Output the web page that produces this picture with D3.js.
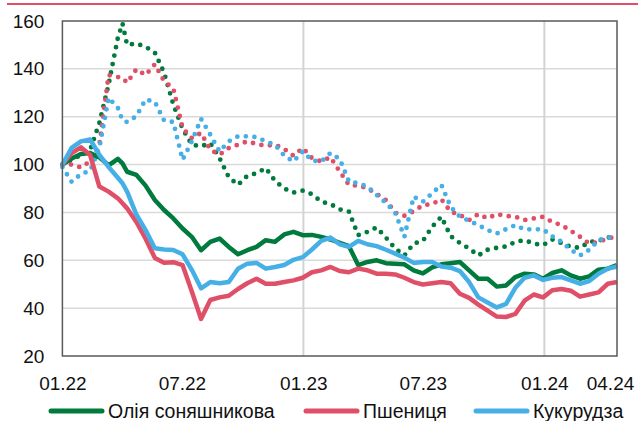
<!DOCTYPE html>
<html>
<head>
<meta charset="utf-8">
<script src="https://cdn.jsdelivr.net/npm/d3@7"></script>
<style>
  body { margin: 0; background: #fff; }
  text { font-family: "Liberation Sans", Arial, sans-serif; fill: #111; }
</style>
</head>
<body>
<div id="chart"></div>
<script>
var svgWidth = 638;
var svgHeight = 421;

var margin = {
  top: 21,
  right: 21,
  bottom: 65,
  left: 62.4
};

var width = svgWidth - margin.left - margin.right;
var height = svgHeight - margin.top - margin.bottom;

// Dates (two-week steps, plus one extra point at the early-April peak)
var dates = [
  "2022-01-01", "2022-01-15", "2022-01-29", "2022-02-12", "2022-02-26", "2022-03-12",
  "2022-03-26", "2022-04-02", "2022-04-09", "2022-04-23", "2022-05-07", "2022-05-21",
  "2022-06-04", "2022-06-18", "2022-07-02", "2022-07-16", "2022-07-30", "2022-08-13",
  "2022-08-27", "2022-09-10", "2022-09-24", "2022-10-08", "2022-10-22", "2022-11-05",
  "2022-11-19", "2022-12-03", "2022-12-17", "2022-12-31", "2023-01-14", "2023-01-28",
  "2023-02-11", "2023-02-25", "2023-03-11", "2023-03-25", "2023-04-08", "2023-04-22",
  "2023-05-06", "2023-05-20", "2023-06-03", "2023-06-17", "2023-07-01", "2023-07-15",
  "2023-07-29", "2023-08-12", "2023-08-26", "2023-09-09", "2023-09-23", "2023-10-07",
  "2023-10-21", "2023-11-04", "2023-11-18", "2023-12-02", "2023-12-16", "2023-12-30",
  "2024-01-13", "2024-01-27", "2024-02-10", "2024-02-24", "2024-03-09", "2024-03-23",
  "2024-04-06", "2024-04-20"
];

// Solid lines (legend series)
var oilSolid = [
  100, 102.5, 104.4, 104.8, 103, 99.7, 102.4, 100.5, 97, 95.7, 91.2, 85.2,
  81, 77.5, 73.3, 69.8, 64.2, 67.7, 69.1, 65.6, 62.5, 64.2, 65.6, 68.4,
  67.7, 70.8, 71.9, 70.5, 70.6, 69.8, 68.7, 67.3, 65.9, 58, 59.3, 60,
  58.8, 58.6, 58.3, 55.8, 54.5, 57, 58.3, 58.8, 59.3, 55.8, 52.3, 52.3,
  49, 49.5, 53, 54.4, 54.1, 52.3, 54.7, 55.8, 53.7, 52.3, 53.3, 56.1,
  56.5, 58
];
var wheatSolid = [
  100, 104.8, 107.2, 104, 90.8, 88.7, 85.9, 83.8, 81.7, 76, 69, 61,
  59, 59.2, 58, 47, 35.5, 43.4, 44.5, 45.2, 48, 50.4, 52.3, 50.2,
  50.2, 50.9, 51.6, 52.7, 55, 55.8, 57.2, 55.5, 55, 56.5, 55.8, 54.4,
  54.4, 54.1, 52.7, 50.9, 49.9, 50.4, 50.9, 50.4, 46, 44.3, 41.5, 39,
  36.5, 36.3, 37.6, 43.1, 45.7, 44.5, 47.5, 48, 47.3, 44.8, 45.7, 46.6,
  50.2, 50.9
];
var cornSolid = [
  100, 107, 109.7, 110.5, 104, 99, 94.5, 92.2, 88.7, 79.2, 72.6, 65,
  64.5, 64.3, 62.5, 56, 48.3, 50.9, 50.4, 50.9, 56.5, 58.6, 58.9, 56.5,
  57.2, 58, 60.2, 61.3, 64.5, 68.1, 69.5, 66.7, 65.6, 68.1, 66.7, 65.9,
  64.4, 62.8, 61.1, 58.9, 59.3, 59.3, 57.4, 56.9, 55.5, 50.9, 44.5, 42.4,
  40.3, 41.8, 48.5, 52.7, 53.7, 51.8, 52.7, 53, 51.6, 50.2, 51.3, 54.4,
  56.5, 57.4
];

// Dotted lines (no legend entry)
var oilDotted = [
  100, 102, 104, 106, 117.4, 133.5, 153, 159, 150, 150.6, 149.2, 146.8,
  138.4, 125.1, 115, 108.3, 107.6, 109, 102.7, 94.7, 91.5, 95.3, 96.4, 98.5,
  93.2, 90, 88.3, 89.1, 87.6, 84.5, 83.5, 81.3, 80.3, 70.5, 71.9, 73.7,
  69.5, 64.9, 62, 67, 68.1, 74, 78.2, 70.1, 67.2, 64.9, 62, 64.4,
  65.2, 65.8, 67.7, 68.4, 67, 66.3, 68.7, 67.2, 65.6, 65.2, 67.7, 68.1,
  69.5, 70
];
var wheatDotted = [
  100, 100, 98.8, 101.3, 108.3, 137.4, 136.6, 136.3, 134.2, 139.8, 137.4, 141.9,
  134.9, 131.8, 115.3, 111.1, 113.2, 106.2, 104.1, 106.9, 108.3, 109.7, 108.6, 107.9,
  108.3, 106.5, 103.7, 106.9, 102.7, 101.3, 103.1, 97.1, 91.5, 91.2, 90.1, 87.7,
  85.2, 79.9, 78.6, 80.5, 83, 83.5, 85.5, 80.3, 78.9, 76.8, 79.3, 77.5,
  79.3, 78.5, 78.2, 76.8, 77.5, 78.2, 76, 74.7, 72.3, 69.8, 67, 67.7,
  69.1, 70
];
var cornDotted = [
  99, 92.8, 96, 97.4, 107, 127.9, 123.7, 118.5, 117.8, 120.2, 127.2, 126.2,
  118.4, 117.8, 102, 109.7, 119.1, 112.5, 105.5, 109.7, 111.8, 111.8, 111.5, 109.7,
  108.3, 103.7, 101.3, 105.5, 101.7, 101.3, 104.8, 102.3, 92.9, 92.2, 90.8, 87.3,
  84, 79.9, 69.8, 86.6, 84.5, 88, 91.5, 82.4, 78.2, 76.5, 74.7, 72.6,
  71.2, 73, 74.7, 72.9, 73, 72.9, 70, 67.7, 64.4, 62, 64.4, 68.4,
  69.5, 70
];

var yTicks = [20, 40, 60, 80, 100, 120, 140, 160];
var xTickDates = ["2022-01-01", "2022-07-01", "2023-01-01", "2023-07-01", "2024-01-01", "2024-04-20"];
var xTickLabels = ["01.22", "07.22", "01.23", "07.23", "01.24", "04.24"];
var yearLines = ["2023-01-01", "2024-01-01"];

var seriesNames = ["Олія соняшникова", "Пшениця", "Кукурудза"];
var colors = ["#007a3d", "#e04f68", "#45afe6"];

var parseDate = d3.timeParse("%Y-%m-%d");

var svg = d3.select("#chart")
  .append("svg")
  .attr("width", svgWidth)
  .attr("height", svgHeight);

// Red rule at the very top
svg.append("line")
  .attr("x1", 7)
  .attr("x2", svgWidth)
  .attr("y1", 4)
  .attr("y2", 4)
  .attr("stroke", colors[1])
  .attr("stroke-width", 2);

var chartGroup = svg.append("g")
  .attr("transform", `translate(${margin.left}, ${margin.top})`);

var xScale = d3.scaleTime()
  .domain([parseDate(dates[0]), parseDate(dates[dates.length - 1])])
  .range([0, width]);

var yScale = d3.scaleLinear()
  .domain([20, 160])
  .range([height, 0]);

// Horizontal gridlines
chartGroup.selectAll(".hgrid")
  .data(yTicks.slice(1, -1))
  .enter().append("line")
  .attr("x1", 0)
  .attr("x2", width)
  .attr("y1", d => yScale(d))
  .attr("y2", d => yScale(d))
  .attr("stroke", "#d9d9d9")
  .attr("stroke-width", 1.5);

// Vertical year lines
chartGroup.selectAll(".vgrid")
  .data(yearLines)
  .enter().append("line")
  .attr("x1", d => xScale(parseDate(d)))
  .attr("x2", d => xScale(parseDate(d)))
  .attr("y1", 0)
  .attr("y2", height)
  .attr("stroke", "#d3d3d3")
  .attr("stroke-width", 2);

// Axes
var leftAxis = d3.axisLeft(yScale)
  .tickValues(yTicks)
  .tickSize(0)
  .tickPadding(18);

var yAxis = chartGroup.append("g").call(leftAxis);
yAxis.select(".domain").remove();
yAxis.selectAll("text")
  .attr("font-size", 19)
  .attr("fill", "#111");

var bottomAxis = d3.axisBottom(xScale)
  .tickValues(xTickDates.map(parseDate))
  .tickFormat((d, i) => xTickLabels[i])
  .tickSize(0)
  .tickPadding(21);

var xAxis = chartGroup.append("g")
  .attr("transform", `translate(0, ${height})`)
  .call(bottomAxis);
xAxis.select(".domain").remove();
xAxis.selectAll("text")
  .attr("font-size", 19)
  .attr("fill", "#111");
// keep the last label inside the picture
xAxis.selectAll(".tick").filter((d, i) => i === xTickDates.length - 1)
  .select("text").attr("x", -7);

// Lines
var line = d3.line()
  .x((d, i) => xScale(parseDate(dates[i])))
  .y(d => yScale(d));

var dotted = [oilDotted, wheatDotted, cornDotted];
var solid = [oilSolid, wheatSolid, cornSolid];

chartGroup.selectAll(".dotted")
  .data(dotted)
  .enter().append("path")
  .attr("d", d => line(d))
  .attr("fill", "none")
  .attr("stroke", (d, i) => colors[i])
  .attr("stroke-width", 4.8)
  .attr("stroke-linecap", "round")
  .attr("stroke-dasharray", "0 8.6");

chartGroup.selectAll(".solid")
  .data(solid)
  .enter().append("path")
  .attr("d", d => line(d))
  .attr("fill", "none")
  .attr("stroke", (d, i) => colors[i])
  .attr("stroke-width", 4.5)
  .attr("stroke-linejoin", "round");

// Plot frame
chartGroup.append("rect")
  .attr("x", 0)
  .attr("y", 0)
  .attr("width", width)
  .attr("height", height)
  .attr("fill", "none")
  .attr("stroke", "#595959")
  .attr("stroke-width", 1.5);

// Legend
var legendX = [51, 306, 476];
var legend = svg.append("g").attr("transform", "translate(0, 411)");

seriesNames.forEach(function(name, i) {
  legend.append("line")
    .attr("x1", legendX[i])
    .attr("x2", legendX[i] + 51)
    .attr("y1", 0)
    .attr("y2", 0)
    .attr("stroke", colors[i])
    .attr("stroke-width", 5)
    .attr("stroke-linecap", "round");
  legend.append("text")
    .attr("x", legendX[i] + 57)
    .attr("y", 0)
    .attr("dy", "0.35em")
    .attr("font-size", 19.5)
    .text(name);
});
</script>
</body>
</html>
